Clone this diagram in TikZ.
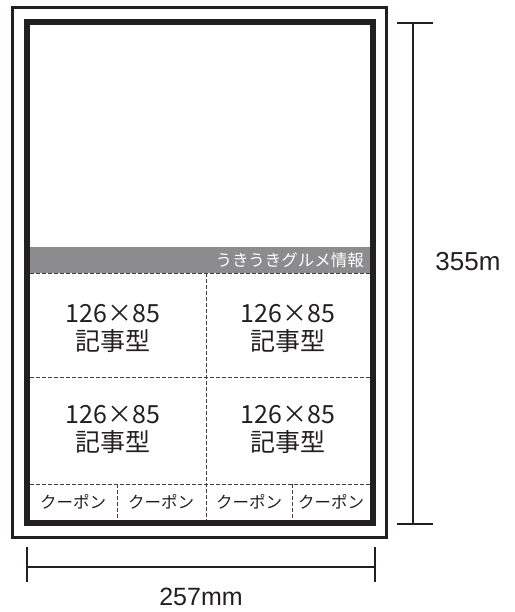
\documentclass[tikz,border=0pt]{standalone}
\usepackage{fontspec}
\setmainfont{Liberation Sans}
\newfontfamily\jpfont{Noto Sans CJK JP}
\definecolor{ink}{HTML}{231F20}
\definecolor{band}{HTML}{8C8C8E}

\begin{document}
\begin{tikzpicture}[x=1pt,y=-1pt]
  \tikzstyle{cut}=[draw=ink!85, dash pattern=on 3.5pt off 2.5pt, line width=0.9pt]
  \tikzstyle{sizenode}=[font=\jpfont\fontsize{25}{28}\selectfont, align=center, text=ink, inner sep=0pt]
  \tikzstyle{couponnode}=[font=\jpfont\fontsize{16.5}{18}\selectfont, text=ink, inner sep=0pt]
  \tikzstyle{dimline}=[draw=ink, line width=2.6pt]
  \tikzstyle{dimtext}=[font=\fontsize{26}{30}\selectfont, text=ink, inner sep=0pt]
  \useasboundingbox (0,0) rectangle (514,612);
  % paper and page frame
  \draw[ink, line width=3pt] (12.5,7.5) rectangle (386.5,537.5);
  \draw[ink, line width=6pt] (27,22) rectangle (373,523);
  % gourmet band
  \fill[band] (30,247) rectangle (370,273);
  \node[anchor=east, text=white, font=\jpfont\fontsize{16.5}{18}\selectfont, inner sep=0pt] (band) at (364,260) {うきうきグルメ情報};
  % cut lines
  \draw[cut] (30,273) -- (370,273);
  \draw[cut] (30,377) -- (370,377);
  \draw[cut] (30,484) -- (370,484);
  \draw[cut] (206,273) -- (206,520);
  \draw[cut] (117,484) -- (117,520);
  \draw[cut] (292,484) -- (292,520);
  % articles
  \node[sizenode] (ad1) at (113,328) {126×85\\記事型};
  \node[sizenode] (ad2) at (288,328) {126×85\\記事型};
  \node[sizenode] (ad3) at (113,429) {126×85\\記事型};
  \node[sizenode] (ad4) at (288,429) {126×85\\記事型};
  % coupons
  \foreach \cx [count=\i] in {73,161,249,331}
    \node[couponnode] (coupon\i) at (\cx,502) {クーポン};
  % height
  \coordinate (htop) at (413,23);
  \coordinate (hbot) at (413,524);
  \draw[dimline] (htop) -- (hbot);
  \draw[dimline] ([xshift=-16pt]htop) -- ([xshift=20pt]htop);
  \draw[dimline] ([xshift=-16pt]hbot) -- ([xshift=20pt]hbot);
  \node[dimtext] (height) at (468,262) {355m};
  % width
  \coordinate (wleft) at (27,567);
  \coordinate (wright) at (375,567);
  \draw[dimline] (wleft) -- (wright);
  \draw[dimline] ([yshift=20pt]wleft) -- ([yshift=-15pt]wleft);
  \draw[dimline] ([yshift=20pt]wright) -- ([yshift=-15pt]wright);
  \node[dimtext, font=\fontsize{25}{28}\selectfont] (width) at (201,597) {257mm};
\end{tikzpicture}
\end{document}
